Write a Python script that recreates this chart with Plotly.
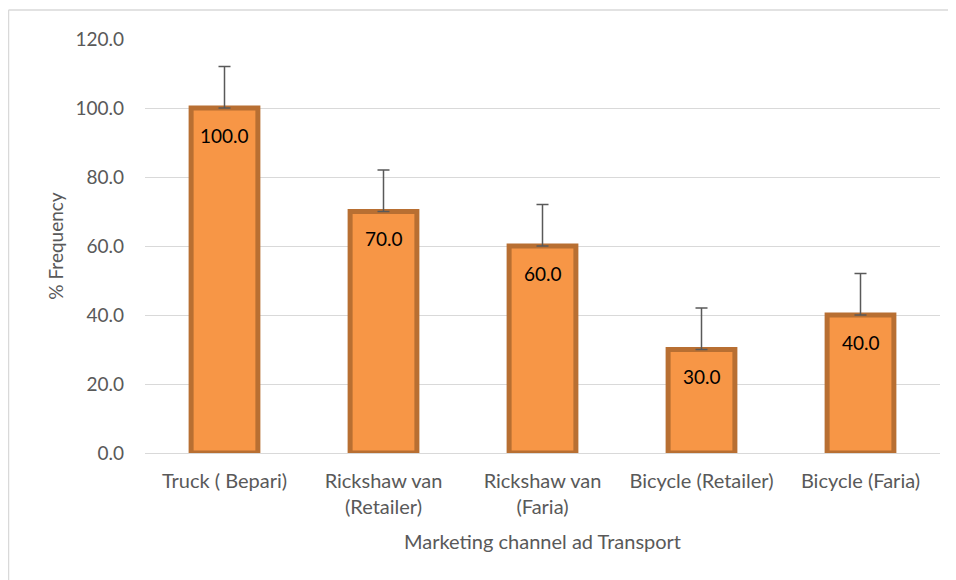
import plotly.graph_objects as go

categories = ["Truck ( Bepari)", "Rickshaw van<br>(Retailer)", "Rickshaw van<br>(Faria)",
              "Bicycle (Retailer)", "Bicycle (Faria)"]
values = [100.0, 70.0, 60.0, 30.0, 40.0]
errors = [12.0, 12.0, 12.0, 12.0, 12.0]
y_ticks = [0, 20, 40, 60, 80, 100, 120]

FONT = "Lato"
GRAY = "#595959"

fig = go.Figure()
fig.add_trace(go.Bar(
    x=categories, y=values,
    width=0.42,
    marker=dict(color="#F79646", line=dict(color="#B86F32", width=5)),
    error_y=dict(type="data", array=errors, symmetric=False, arrayminus=[0]*5,
                 color="#595959", thickness=1.5, width=6, visible=True),
    hoverinfo="x+y",
))

for c, v in zip(categories, values):
    fig.add_annotation(x=c, y=v, text=f"{v:.1f}", showarrow=False, yshift=-27,
                       font=dict(family=FONT, size=19, color="#000000"))

# outer chart frame (only top/left edges visible in the window)
fig.add_shape(type="line", xref="paper", yref="paper",
              x0=-0.1717, x1=-0.1717, y0=1.07, y1=-0.5,
              line=dict(color="#D9D9D9", width=1.5), layer="below")
fig.add_shape(type="line", xref="paper", yref="paper",
              x0=-0.1717, x1=1.2, y0=1.07, y1=1.07,
              line=dict(color="#D9D9D9", width=1.5), layer="below")

fig.update_layout(
    width=948, height=572,
    margin=dict(l=137, r=16, t=31, b=127),
    paper_bgcolor="white", plot_bgcolor="white",
    showlegend=False,
    font=dict(family=FONT, size=19, color=GRAY),
    xaxis=dict(title=dict(text="Marketing channel ad Transport", font=dict(size=20, color=GRAY), standoff=17),
               tickfont=dict(size=20, color=GRAY), showgrid=False, showline=False, ticks="",
               zeroline=False, ticklabelstandoff=14),
    yaxis=dict(title=dict(text="% Frequency", font=dict(size=19, color=GRAY), standoff=6),
               range=[0, 120], tickvals=y_ticks, ticktext=[f"{t:.1f}" for t in y_ticks],
               tickfont=dict(size=19, color=GRAY),
               showgrid=True, gridcolor="#D9D9D9", gridwidth=1,
               zeroline=True, zerolinecolor="#D9D9D9", zerolinewidth=1,
               showline=False, ticks="", ticklen=0, ticklabelstandoff=20),
)

fig.write_html("out.html")
